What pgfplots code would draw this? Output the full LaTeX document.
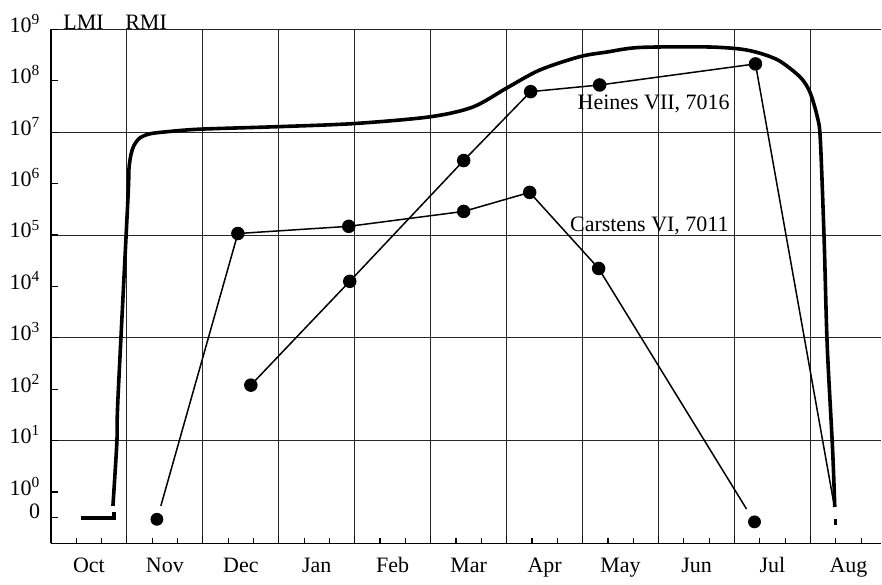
\documentclass[border=0pt]{standalone}
\usepackage{fontspec}
\setmainfont{Liberation Serif}
\usepackage{pgfplots}
\pgfplotsset{compat=1.18}
\begin{document}
\fontsize{11}{13}\selectfont
\begin{tikzpicture}
\begin{axis}[name=ax, scale only axis, width=415.5pt, height=257.25pt,
  xmin=0, xmax=10.93, ymin=-1, ymax=9, clip=false,
  axis x line*=bottom, axis y line*=left,
  axis line style={line width=0.9pt, -},
  tick align=inside,
  tick style={black, line width=0.6pt},
  major tick length=3.5pt, minor tick length=2.5pt,
  xtick={0,1,2,3,4,5,6,7,8,9,10}, xticklabels={},
  xmajorgrids,
  minor xtick={0.3333,0.6667,1.3333,1.6667,2.3333,2.6667,3.3333,3.6667,4.3333,4.6667,5.3333,5.6667,6.3333,6.6667,7.3333,7.6667,8.3333,8.6667,9.3333,9.6667,10.3333,10.6667},
  extra x ticks={0.5,1.5,2.5,3.5,4.5,5.5,6.5,7.5,8.5,9.5,10.5},
  extra x tick labels={Oct,Nov,Dec,Jan,Feb,Mar,Apr,May,Jun,Jul,Aug},
  extra x tick style={grid=none, major tick length=0pt},
  xticklabel style={yshift=-2.5pt, text height=8pt, text depth=2.5pt},
  ytick={-0.5,0,1,2,3,4,5,6,7,8,9},
  yticklabels={0,10\textsuperscript{0},10\textsuperscript{1},10\textsuperscript{2},10\textsuperscript{3},10\textsuperscript{4},10\textsuperscript{5},10\textsuperscript{6},10\textsuperscript{7},10\textsuperscript{8},10\textsuperscript{9}},
  minor ytick={1,3,5,7,9}, yminorgrids,
  yticklabel style={yshift=3pt, xshift=-1.5pt},
  grid style={line width=0.5pt, black!85},
  minor grid style={line width=0.5pt, black!85},
]
% thick curve LMI-RMI
\addplot[line width=1.8pt, black] coordinates {(0.395,-0.5) (0.83,-0.5) (0.83,-0.38)};
\addplot[line width=1.8pt, black, smooth, tension=0.5] coordinates {
 (0.816,-0.27) (0.868,0.97) (0.882,1.81) (1.013,5.69) (1.026,6.27) (1.053,6.56)
 (1.092,6.74) (1.171,6.89) (1.303,6.97) (1.526,7.01) (1.961,7.06) (3.013,7.11)
 (4.0,7.17) (4.987,7.30) (5.553,7.49) (6.0,7.86) (6.434,8.21) (6.96,8.47)
 (7.316,8.56) (7.75,8.65) (8.63,8.66) (9.07,8.62) (9.33,8.54) (9.59,8.39)
 (9.86,8.08) (9.99,7.79) (10.09,7.30) (10.13,6.85) (10.18,4.91) (10.22,2.87)
 (10.29,0.87) (10.32,-0.29)};
\addplot[line width=1.8pt, black] coordinates {(10.33,-0.52) (10.33,-0.64)};
% Heines VII, 7016
\addplot[line width=0.75pt, black, mark=*, mark size=3pt, mark indices={1,2,3,4,5,6}] coordinates {
 (2.632,2.08) (3.934,4.10) (5.434,6.45) (6.316,7.79) (7.224,7.92) (9.276,8.33) (10.316,-0.29)};
% Carstens VI, 7011
\addplot[line width=0.75pt, black, mark=*, mark size=3pt, mark indices={2,3,4,5,6}] coordinates {
 (1.447,-0.27) (2.461,5.03) (3.921,5.17) (5.434,5.46) (6.303,5.83) (7.211,4.35) (9.158,-0.33)};
\addplot[only marks, black, mark=*, mark size=3pt] coordinates {(1.395,-0.53) (9.263,-0.58)};
\node[anchor=base west, inner sep=0pt] at (axis cs:6.93,7.44) {Heines VII, 7016};
\node[anchor=base west, inner sep=0pt] at (axis cs:6.83,5.07) {Carstens VI, 7011};
\node[anchor=base west, inner sep=0pt] at (axis cs:0.158,9) {LMI};
\node[anchor=base west, inner sep=0pt] at (axis cs:0.974,9) {RMI};
\end{axis}
\path ([xshift=-25.5pt,yshift=-17.5pt]ax.south west) rectangle ([yshift=14.75pt]ax.north east);
\end{tikzpicture}
\end{document}
